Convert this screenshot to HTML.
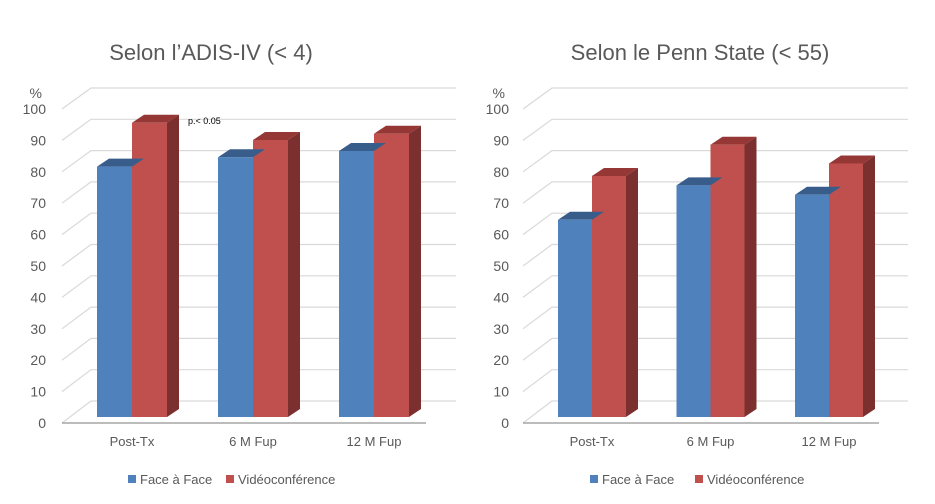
<!DOCTYPE html>
<html><head><meta charset="utf-8"><style>
html,body{margin:0;padding:0;background:#fff;width:935px;height:504px;overflow:hidden}
svg{display:block;font-family:"Liberation Sans",sans-serif}
</style></head><body>
<svg id="c" width="935" height="504" viewBox="0 0 935 504"></svg>
<script>
const categories = ["Post-Tx", "6 M Fup", "12 M Fup"];
const seriesNames = ["Face à Face", "Vidéoconférence"];
const adisFace = [80, 83, 85];
const adisVideo = [94, 88.5, 90.5];
const pennFace = [63, 74, 71];
const pennVideo = [77, 87, 81];
const yTicks = [0, 10, 20, 30, 40, 50, 60, 70, 80, 90, 100];

const NS = "http://www.w3.org/2000/svg";
const svg = document.getElementById("c");
function mk(tag, attrs, parent) {
  const e = document.createElementNS(NS, tag);
  for (const k in attrs) e.setAttribute(k, attrs[k]);
  (parent || svg).appendChild(e);
  return e;
}

function drawChart(cfg, face, video, key) {
  const g = mk("g", {});
  
  
  const yFront = v => cfg.frontBase - v * 3.14;
  const yBack = v => cfg.frontBase - 22 - v * 3.13;
  const yBar = v => cfg.barBase - v * 3.13;
  // title
  const t = mk("text", {x: cfg.titleX, y: 60, "font-size": 22, fill: "#595959", "text-anchor": "middle"}, g);
  t.textContent = cfg.title;
  
  
  // gridlines
  yTicks.forEach(v => {
    const l = mk("polyline", {points: `${cfg.frontL},${yFront(v)} ${cfg.backL},${yBack(v)} ${cfg.backR},${yBack(v)}`, fill: "none", stroke: "#d9d9d9", "stroke-width": 1.2}, g);
    
    
    const lb = mk("text", {x: cfg.labelX, y: yFront(v) + 5, "font-size": 14, fill: "#595959", "text-anchor": "end"}, g);
    lb.textContent = v;
    
    
  });
  const pct = mk("text", {x: cfg.labelX - 4, y: 98, "font-size": 14, fill: "#595959", "text-anchor": "end"}, g);
  pct.textContent = "%";
  
  
  // axis floor line
  const ax = mk("line", {x1: cfg.frontL, y1: cfg.frontBase, x2: cfg.frontR, y2: cfg.frontBase, stroke: "#a6a6a6", "stroke-width": 1.5}, g);
  
  
  const bw = cfg.barW, dx = 12, dy = 8;
  function bar(x, v, front, top, side, name, last) {
    const y = yBar(v), b = cfg.barBase;
    const bg = mk("g", {}, g);
    
    
    mk("polygon", {points: `${x},${y} ${x+dx},${y-dy} ${x+bw+dx},${y-dy} ${x+bw},${y}`, fill: top}, bg);
    if (last) mk("polygon", {points: `${x+bw},${y} ${x+bw+dx},${y-dy} ${x+bw+dx},${b-dy} ${x+bw},${b}`, fill: side}, bg);
    mk("rect", {x: x, y: y, width: bw, height: b - y, fill: front}, bg);
  }
  categories.forEach((c, i) => {
    const x0 = cfg.firstX + i * cfg.groupStep;
    bar(x0 + bw, video[i], "#c0504d", "#953735", "#7b2f2e", key + "-bar-video-" + i, true);
    bar(x0, face[i], "#4f81bd", "#385d8a", "#2c4d75", key + "-bar-face-" + i, false);
    const cl = mk("text", {x: x0 + bw, y: 446, "font-size": 13, fill: "#595959", "text-anchor": "middle"}, g);
    cl.textContent = c;
    
    
  });
  // legend
  const cols = ["#4f81bd", "#c0504d"];
  seriesNames.forEach((s, i) => {
    const lg = mk("g", {}, g);
    
    
    mk("rect", {x: cfg.legX[i], y: 475, width: 8, height: 8, fill: cols[i]}, lg);
    const lt = mk("text", {x: cfg.legX[i] + 12, y: 484, "font-size": 13, fill: "#595959"}, lg);
    lt.textContent = s;
  });
}

drawChart({title: "Selon l\u2019ADIS-IV (< 4)", titleX: 211, frontBase: 423, barBase: 417, frontL: 62, frontR: 426, backL: 91, backR: 456, labelX: 46, firstX: 97, groupStep: 121, barW: 35, legX: [128, 226]}, adisFace, adisVideo, "adis");
drawChart({title: "Selon le Penn State (< 55)", titleX: 700, frontBase: 423, barBase: 417, frontL: 523, frontR: 879, backL: 552, backR: 908, labelX: 509, firstX: 558, groupStep: 118.5, barW: 34, legX: [590, 695]}, pennFace, pennVideo, "penn");

const p = mk("text", {x: 188, y: 124, "font-size": 9, fill: "#000"});
p.textContent = "p.< 0.05";


</script>
</body></html>
